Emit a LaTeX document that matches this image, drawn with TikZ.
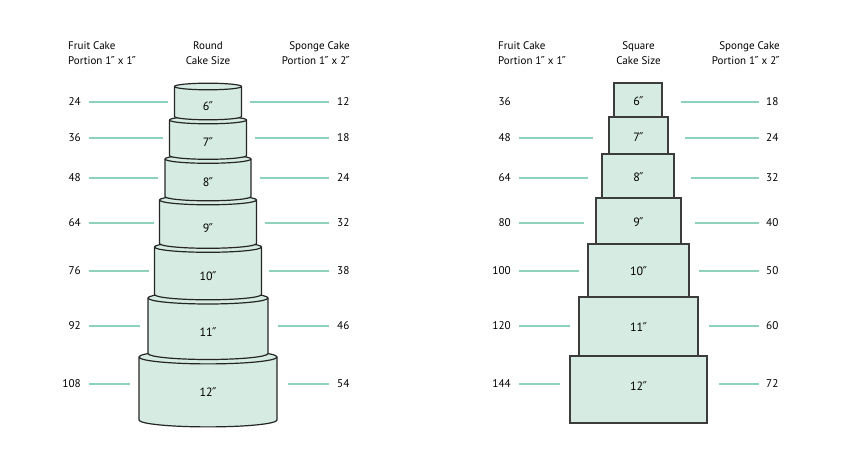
\documentclass[tikz,border=0pt]{standalone}
\usepackage{fontspec}
\setmainfont{PT Sans}
\newfontfamily\primefont{DejaVu Sans}
\newcommand{\inch}{{\primefont\kern-0.05em″}}
\definecolor{cakefill}{RGB}{214,235,225}
\definecolor{leadcol}{RGB}{143,210,188}
\definecolor{sqedge}{RGB}{60,60,60}
\begin{document}
\begin{tikzpicture}[x=1pt,y=1pt,
  cake/.style={draw=black!85,line width=1.2pt,fill=cakefill,line join=round},
  sqcake/.style={draw=sqedge,line width=1.4pt,fill=cakefill},
  lead/.style={draw=leadcol,line width=1.8pt},
  num/.style={inner sep=0pt,font=\fontsize{11.2}{13}\selectfont},
  size/.style={inner sep=0pt,font=\fontsize{12}{13}\selectfont},
  head/.style={inner sep=0pt,font=\fontsize{11}{15}\selectfont}]
\useasboundingbox (0,0) rectangle (842,470);
\newcommand{\rtier}[5]{%
  \filldraw[cake] (208-#1,470-#2) -- (208-#1,470-#3)
    arc[start angle=180,end angle=360,x radius=#1,y radius=#4]
    -- (208+#1,470-#2)
    arc[start angle=0,end angle=180,x radius=#1,y radius=#4] -- cycle;
  \draw[cake,fill=none] (208-#1,470-#2)
    arc[start angle=180,end angle=360,x radius=#1,y radius=#4];
  \coordinate (#5) at (208,470-#3/2-#2/2);}
% ---------------- round cake ----------------
\rtier{69}{357}{420}{6.9}{r12}
\rtier{60}{298}{353.5}{6}{r11}
\rtier{53.5}{247}{294.5}{5.3}{r10}
\rtier{48.5}{200}{243.5}{4.8}{r9}
\rtier{43}{159}{196.5}{4.3}{r8}
\rtier{38.5}{120}{155.5}{3.8}{r7}
\rtier{33.5}{86.5}{116.5}{3.3}{r6}
\node[size] (t6) at (208,470-106) {6\inch};
\node[size] (t7) at (208,470-142) {7\inch};
\node[size] (t8) at (208,470-182.5) {8\inch};
\node[size] (t9) at (208,470-228) {9\inch};
\node[size] (t10) at (208,470-276) {10\inch};
\node[size] (t11) at (208,470-332) {11\inch};
\node[size] (t12) at (208,470-392.5) {12\inch};
% headers
\node[head,anchor=west,align=left] (hrl) at (68,470-53) {Fruit Cake\\Portion 1\inch{} x 1\inch};
\node[head,align=center] (hrc) at (208,470-53) {Round\\Cake Size};
\node[head,anchor=east,align=right] (hrr) at (350,470-53) {Sponge Cake\\Portion 1\inch{} x 2\inch};
% left numbers and leads
\foreach \n/\y/\e [count=\i] in {24/102/168,36/138/163,48/178/158,64/223/154,76/271/149,92/326/140,108/384/130}{
  \node[num,anchor=east] (rf\i) at (81,470-\y) {\n};
  \coordinate (rfa\i) at (89,470-\y);
  \coordinate (rfb\i) at (\e,470-\y);
  \draw[lead] (rfa\i) -- (rfb\i);
}
\foreach \n/\y/\s [count=\i] in {12/102/250,18/138/255,24/178/260,32/223/265,38/271/269,46/326/278,54/384/288}{
  \node[num,anchor=west] (rs\i) at (337,470-\y) {\n};
  \coordinate (rsa\i) at (\s,470-\y);
  \coordinate (rsb\i) at (329,470-\y);
  \draw[lead] (rsa\i) -- (rsb\i);
}
% ---------------- square cake ----------------
\foreach \l/\r/\t/\b/\lab/\ty [count=\i] in {570/707/356/423/12/386.5,579/698/297/356/11/327.5,588/689/244/297/10/271,596/681/198/244/9/222,602/674/154/198/8/177.5,609/668/117/154/7/137,614/662/83/117/6/101.5}{
  \filldraw[sqcake] (\l,470-\t) rectangle (\r,470-\b);
  \node[size] (s\lab) at (638.5,470-\ty) {\lab\inch};
}
\node[head,anchor=west,align=left] (hsl) at (498,470-53) {Fruit Cake\\Portion 1\inch{} x 1\inch};
\node[head,align=center] (hsc) at (638.5,470-53) {Square\\Cake Size};
\node[head,anchor=east,align=right] (hsr) at (780,470-53) {Sponge Cake\\Portion 1\inch{} x 2\inch};
\node[num,anchor=east] (sf1) at (511,470-102) {36};
\foreach \n/\y/\e [count=\i from 2] in {48/138/593,64/178/588,80/223/584,100/271/579,120/326/570,144/384/560}{
  \node[num,anchor=east] (sf\i) at (511,470-\y) {\n};
  \coordinate (sfa\i) at (519,470-\y);
  \coordinate (sfb\i) at (\e,470-\y);
  \draw[lead] (sfa\i) -- (sfb\i);
}
\foreach \n/\y/\s [count=\i] in {18/102/681,24/138/685,32/178/691,40/223/695,50/271/699,60/326/709,72/384/719}{
  \node[num,anchor=west] (ss\i) at (766,470-\y) {\n};
  \coordinate (ssa\i) at (\s,470-\y);
  \coordinate (ssb\i) at (759,470-\y);
  \draw[lead] (ssa\i) -- (ssb\i);
}
\end{tikzpicture}
\end{document}
